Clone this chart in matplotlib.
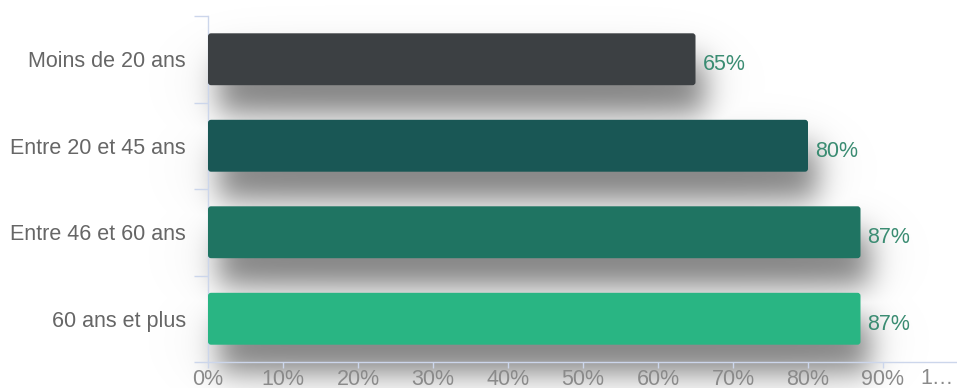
import math
import numpy as np
import matplotlib
matplotlib.use("Agg")
import matplotlib.pyplot as plt
from matplotlib.patches import FancyBboxPatch

# Data
categories = ["Moins de 20 ans", "Entre 20 et 45 ans", "Entre 46 et 60 ans", "60 ans et plus"]
values = [65, 80, 87, 87]
bar_colors = ["#3c4043", "#195755", "#1f7462", "#29b583"]
xtick_values = [0, 10, 20, 30, 40, 50, 60, 70, 80, 90, 100]
xtick_labels = ["0%", "10%", "20%", "30%", "40%", "50%", "60%", "70%", "80%", "90%", ""]
overflow_label = "1…"

plt.rcParams["font.family"] = ["Liberation Sans", "DejaVu Sans"]
FS = 15.5

W, H = 957, 388
fig = plt.figure(figsize=(W / 100, H / 100), dpi=100)
fig.patch.set_facecolor("white")

ax_left, ax_right, ax_top, ax_bottom = 208, 958, 16, 362
ax = fig.add_axes([ax_left / W, (H - ax_bottom) / H,
                   (ax_right - ax_left) / W, (ax_bottom - ax_top) / H])
ax.set_facecolor("none")

n = len(categories)
y = np.arange(n)
bar_h = 0.6
xmin, xmax = 0, 100
ax.set_xlim(xmin, xmax)
ax.set_ylim(n - 0.5, -0.5)

# Blurred drop shadow under the bars, computed in data space
px_x = (ax_right - ax_left) / (xmax - xmin)    # pixels per percent
px_y = (ax_bottom - ax_top) / n                 # pixels per category
gx0 = xmin - ax_left / px_x
gx1 = xmin + (W - ax_left) / px_x
gy0 = -0.5 - ax_top / px_y
gy1 = n - 0.5 + (H - ax_bottom) / px_y
GX, GY = np.meshgrid(np.linspace(gx0, gx1, 480), np.linspace(gy0, gy1, 300))
erf = np.vectorize(math.erf)


def soft_rect(x0, x1, y0, y1, sx, sy):
    s2 = math.sqrt(2)
    return 0.25 * (erf((GX - x0) / (s2 * sx)) - erf((GX - x1) / (s2 * sx))) * \
                  (erf((GY - y0) / (s2 * sy)) - erf((GY - y1) / (s2 * sy)))


shadow = np.zeros_like(GX)
for yi, v in zip(y, values):
    dx, dy = 10 / px_x, 28 / px_y
    y0, y1 = yi - bar_h / 2 + dy, yi + bar_h / 2 + dy
    near = soft_rect(dx, v + dx, y0, y1, 14 / px_x, 15 / px_y)
    wide = soft_rect(0, v + dx, y0 - 10 / px_y, y1, 40 / px_x, 28 / px_y)
    shadow = np.maximum(shadow, 0.44 * near + 0.08 * wide)
rgba = np.zeros(GX.shape + (4,))
rgba[..., 3] = np.clip(shadow, 0, 1)
ax.imshow(rgba, extent=(gx0, gx1, gy1, gy0), origin="upper", aspect="auto",
          interpolation="bilinear", zorder=0, clip_on=False)
ax.set_xlim(xmin, xmax)
ax.set_ylim(n - 0.5, -0.5)

# Bars with slightly rounded corners
bars = ax.barh(y, values, height=bar_h, color=bar_colors, zorder=3)
r_px = 3
for rect in bars:
    x0, y0 = rect.get_xy()
    fb = FancyBboxPatch((x0, y0), rect.get_width(), rect.get_height(),
                        boxstyle=f"round,pad=0,rounding_size={r_px / px_x}",
                        mutation_aspect=px_x / px_y,
                        facecolor=rect.get_facecolor(), edgecolor="none", zorder=3)
    ax.add_patch(fb)
    rect.set_visible(False)

# Value labels
for yi, v in zip(y, values):
    ax.annotate(f"{v}%", xy=(v, yi), xytext=(5, -4), textcoords="offset points",
                ha="left", va="center", fontsize=FS, color="#3a8c72", zorder=4)

# Axes styling
axis_col = "#ccd6eb"
for s in ["top", "right"]:
    ax.spines[s].set_visible(False)
for s in ["left", "bottom"]:
    ax.spines[s].set_color(axis_col)
    ax.spines[s].set_linewidth(1)

ax.set_yticks(y)
ax.set_yticklabels(categories)
ax.set_yticks(np.arange(-0.5, n, 1.0), minor=True)
ax.tick_params(axis="y", which="major", length=0, pad=16, labelsize=FS, labelcolor="#666666")
ax.tick_params(axis="y", which="minor", length=10, width=1, color=axis_col)

ax.set_xticks(xtick_values)
ax.set_xticklabels(xtick_labels)
ax.tick_params(axis="x", which="major", length=4, width=1, color=axis_col, pad=1,
               labelsize=FS, labelcolor="#8a8a8a")
ax.annotate(overflow_label, xy=(xmax, 0), xycoords=("data", "axes fraction"),
            xytext=(-3, -4), textcoords="offset points", ha="right", va="top",
            fontsize=FS, color="#8a8a8a", annotation_clip=False)

fig.savefig("out.png", dpi=100)
